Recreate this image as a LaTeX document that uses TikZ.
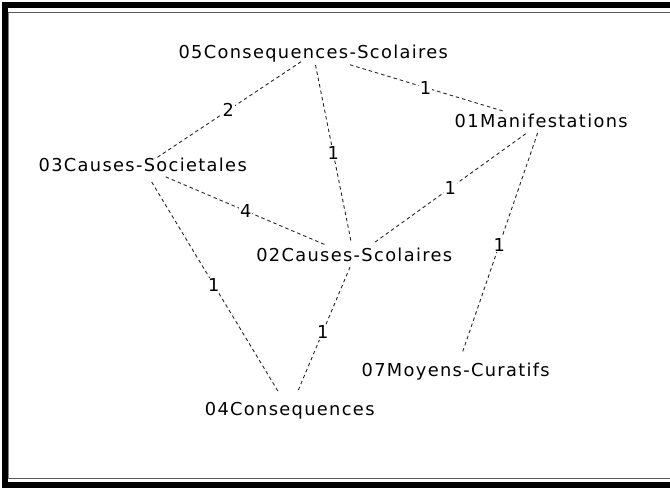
\documentclass[tikz,border=0pt]{standalone}
\usepackage{fontspec}
\newfontfamily\lblfont[LetterSpace=7.5]{DejaVu Sans}
\tikzset{
  nd/.style={font=\lblfont\fontsize{17.8}{20}\selectfont, inner xsep=1pt, inner ysep=0pt,
    outer sep=0pt, text height=12.5pt, text depth=3.7pt, anchor=base, text=black},
  lab/.style={font=\lblfont\fontsize{17.8}{20}\selectfont, fill=white, inner sep=1pt, text=black},
  edge/.style={draw=black!85, line width=0.9pt, dash pattern=on 3.5pt off 3pt}
}
\begin{document}
\begin{tikzpicture}[x=1pt,y=-1pt]
\useasboundingbox (0,0) rectangle (670,488);
% frame
\fill[black] (1.7,1.7) rectangle (670,7.5);
\fill[black] (1.7,1.7) rectangle (7.5,488);
\fill[black] (7.5,481.7) rectangle (670,488);
\draw[black!65, line width=1.3pt] (8,12.8) -- (670,12.8);
\draw[black!65, line width=1.3pt] (8,478.5) -- (670,478.5);
\draw[black!50, line width=0.8pt] (8.2,12.8) -- (8.2,478.5);
% nodes
\node[nd] (n05) at (313.2,58) {05Consequences-Scolaires};
\node[nd] (n01) at (541.2,127) {01Manifestations};
\node[nd] (n03) at (142.7,171.5) {03Causes-Societales};
\node[nd] (n02) at (354.2,261.5) {02Causes-Scolaires};
\node[nd] (n07) at (455.7,376.5) {07Moyens-Curatifs};
\node[nd] (n04) at (289.7,415) {04Consequences};
% edges
\draw[edge] (n05) -- node[lab, pos=0.497] {2} (n03);
\draw[edge, shorten <=3.4pt, shorten >=7pt] (n05) -- node[lab, pos=0.487] {1} (n02);
\draw[edge, shorten <=10.5pt, shorten >=9.9pt] (n05) -- node[lab, pos=0.491] {1} (n01);
\draw[edge, shorten <=4.3pt, shorten >=10.3pt] (n03) -- node[lab, pos=0.484] {4} (n02);
\draw[edge, shorten <=8pt, shorten >=12.3pt] (n03) -- node[lab, pos=0.483] {1} (n04);
\draw[edge, shorten <=2pt, shorten >=11.3pt] (n02) -- node[lab, pos=0.487] {1} (n04);
\draw[edge, shorten <=12pt, shorten >=5.2pt] (n02) -- node[lab, pos=0.516] {1} (n01);
\draw[edge, shorten <=2.4pt, shorten >=11.7pt] (n01) -- node[lab, pos=0.489] {1} (n07);
\end{tikzpicture}
\end{document}
